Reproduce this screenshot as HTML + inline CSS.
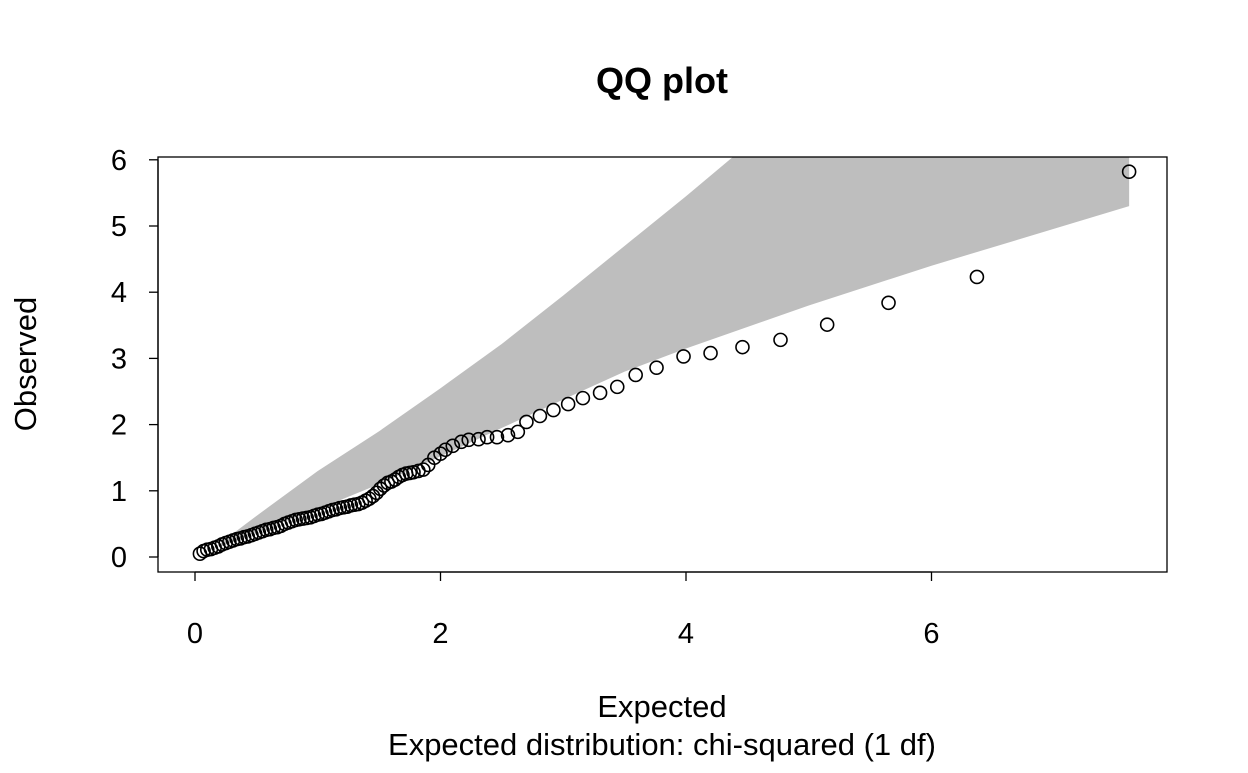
<!DOCTYPE html>
<html><head><meta charset="utf-8"><style>
html,body{margin:0;padding:0;background:#fff}
svg text{font-family:"Liberation Sans",Arial,sans-serif;fill:#000}
</style></head><body>
<svg id="chart" width="1248" height="768" xmlns="http://www.w3.org/2000/svg">
<defs><clipPath id="plotclip"><rect x="158" y="157" width="1009" height="415"/></clipPath></defs>
<text x="662" y="93" font-size="36" font-weight="bold" text-anchor="middle">QQ plot</text>
<g id="band" clip-path="url(#plotclip)"></g>
<g id="points"></g>
<rect x="158" y="157" width="1009" height="415" fill="none" stroke="#000" stroke-width="1.3"/>
<g id="xaxis"></g>
<g id="yaxis"></g>
<text x="662" y="717" font-size="31" text-anchor="middle">Expected</text>
<text x="662" y="755" font-size="31" text-anchor="middle">Expected distribution: chi-squared (1 df)</text>
<text x="0" y="0" font-size="31" text-anchor="middle" transform="translate(36,364) rotate(-90)">Observed</text>
</svg>
<script>
const expected = [0.04,0.07,0.10,0.13,0.16,0.19,0.22,0.25,0.28,0.31,0.34,0.37,0.40,0.43,0.46,0.49,0.52,0.55,0.58,0.61,0.64,0.67,0.70,0.73,0.76,0.79,0.82,0.85,0.88,0.91,0.94,0.97,1.00,1.03,1.06,1.09,1.12,1.15,1.18,1.21,1.24,1.27,1.30,1.33,1.36,1.39,1.42,1.45,1.48,1.51,1.54,1.57,1.60,1.63,1.66,1.69,1.72,1.75,1.78,1.82,1.86,1.90,1.95,2.00,2.04,2.10,2.17,2.23,2.31,2.38,2.46,2.55,2.63,2.70,2.81,2.92,3.04,3.16,3.30,3.44,3.59,3.76,3.98,4.20,4.46,4.77,5.15,5.65,6.37,7.61];
const observed = [0.05,0.09,0.11,0.12,0.14,0.16,0.19,0.21,0.23,0.25,0.27,0.28,0.30,0.31,0.33,0.35,0.37,0.39,0.41,0.42,0.44,0.45,0.47,0.50,0.52,0.54,0.56,0.57,0.58,0.59,0.60,0.62,0.64,0.65,0.67,0.69,0.71,0.72,0.74,0.75,0.76,0.78,0.79,0.80,0.82,0.85,0.88,0.92,0.97,1.03,1.08,1.12,1.14,1.17,1.21,1.24,1.26,1.27,1.28,1.30,1.32,1.39,1.50,1.56,1.62,1.68,1.74,1.77,1.78,1.81,1.81,1.84,1.89,2.04,2.13,2.22,2.31,2.40,2.48,2.57,2.75,2.86,3.03,3.08,3.17,3.28,3.51,3.84,4.23,5.82];
const bandLowerX = [0.2,0.5,1.0,1.5,2.0,2.5,3.0,3.5,4.0,5.0,6.0,7.61];
const bandLowerY = [0.15,0.38,0.72,1.10,1.52,1.95,2.38,2.80,3.15,3.80,4.40,5.30];
const bandUpperX = [0.2,0.5,1.0,1.5,2.0,2.5,3.0,3.5,4.0,4.38,5.0,7.61];
const bandUpperY = [0.20,0.62,1.30,1.90,2.55,3.22,3.95,4.70,5.45,6.04,7.0,10.5];
const xTicks = [0,2,4,6];
const yTicks = [0,1,2,3,4,5,6];

const X = v => 195 + v*122.75;
const Y = v => 557 - v*66.2;
const NS = "http://www.w3.org/2000/svg";
function mk(tag, attrs, parent){const e=document.createElementNS(NS,tag);for(const k in attrs)e.setAttribute(k,attrs[k]);parent.appendChild(e);return e;}

let d = "";
bandUpperX.forEach((x,i)=>{d += (i?"L":"M")+X(x)+","+Y(bandUpperY[i]);});
for(let i=bandLowerX.length-1;i>=0;i--){d += "L"+X(bandLowerX[i])+","+Y(bandLowerY[i]);}
d += "Z";
const band = mk("path",{d:d,fill:"#bebebe",stroke:"none"},document.getElementById("band"));



const pg = document.getElementById("points");
expected.forEach((x,i)=>{
  const c = mk("circle",{cx:X(x),cy:Y(observed[i]),r:6.5,fill:"none",stroke:"#000","stroke-width":1.6},pg);
  
  
});

const xg = document.getElementById("xaxis");
const xl = mk("line",{x1:X(0),x2:X(6),y1:572,y2:572,stroke:"#000","stroke-width":1.3},xg);


xTicks.forEach(t=>{
  const tk = mk("line",{x1:X(t),x2:X(t),y1:572,y2:581,stroke:"#000","stroke-width":1.3},xg);
  
  
  const tx = mk("text",{x:X(t),y:643,"font-size":29,"text-anchor":"middle"},xg);
  tx.textContent = t;
  
  
});

const yg = document.getElementById("yaxis");
const yl = mk("line",{x1:158,x2:158,y1:Y(0),y2:Y(6),stroke:"#000","stroke-width":1.3},yg);


yTicks.forEach(t=>{
  const tk = mk("line",{x1:149,x2:158,y1:Y(t),y2:Y(t),stroke:"#000","stroke-width":1.3},yg);
  
  
  const tx = mk("text",{x:127,y:Y(t)+10,"font-size":29,"text-anchor":"end"},yg);
  tx.textContent = t;
  
  
});
</script>
</body></html>
